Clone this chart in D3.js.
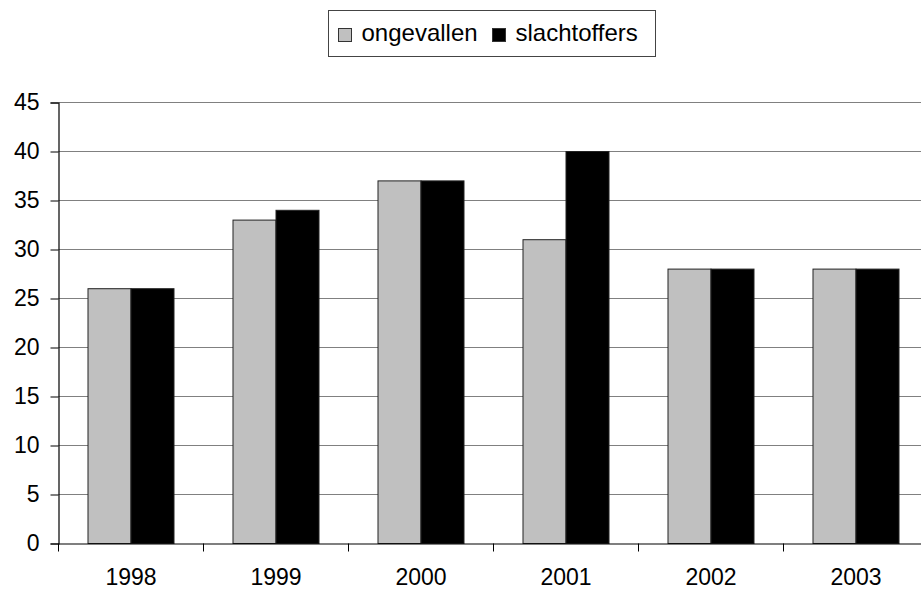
<!DOCTYPE html>
<html>
<head>
<meta charset="utf-8">
<script src="https://cdn.jsdelivr.net/npm/d3@7"></script>
<style>
  body { margin: 0; background: #fff; }
  svg { display: block; font-family: "Liberation Sans", Arial, sans-serif; }
</style>
</head>
<body>
<div id="chart"></div>
<script>
const years = ["1998", "1999", "2000", "2001", "2002", "2003"];
const ongevallen = [26, 33, 37, 31, 28, 28];
const slachtoffers = [26, 34, 37, 40, 28, 28];
const seriesNames = ["ongevallen", "slachtoffers"];
const seriesColors = ["#c0c0c0", "#000000"];
const yTicks = [0, 5, 10, 15, 20, 25, 30, 35, 40, 45];

const width = 921, height = 591;
const margin = { left: 58.5, top: 102.5, bottom: 47.5 };
const plotRight = margin.left + 145 * years.length;
const fontSize = 23;

const svg = d3.select("#chart").append("svg")
  .attr("width", width)
  .attr("height", height);

const x = d3.scaleBand().domain(years).range([margin.left, plotRight]);
const x1 = d3.scaleBand().domain(seriesNames).range([0, 86]);
const y = d3.scaleLinear().domain([0, 45]).range([height - margin.bottom, margin.top]);

// gridlines
svg.append("g")
  .selectAll("line")
  .data(yTicks.slice(1))
  .join("line")
    .attr("x1", margin.left)
    .attr("x2", plotRight)
    .attr("y1", d => y(d))
    .attr("y2", d => y(d))
    .attr("stroke", "#808080")
    .attr("stroke-width", 1.2);

// bars
const rows = years.map((yr, i) => ({ year: yr, values: [ongevallen[i], slachtoffers[i]] }));
const group = svg.append("g")
  .selectAll("g")
  .data(rows)
  .join("g")
    .attr("transform", d => `translate(${x(d.year) + (x.bandwidth() - 86) / 2},0)`);

group.selectAll("rect")
  .data(d => d.values.map((v, j) => ({ name: seriesNames[j], value: v, color: seriesColors[j] })))
  .join("rect")
    .attr("x", d => x1(d.name))
    .attr("width", x1.bandwidth())
    .attr("y", d => y(d.value))
    .attr("height", d => y(0) - y(d.value))
    .attr("fill", d => d.color)
    .attr("stroke", "#222")
    .attr("stroke-width", 1);

// y axis
const yAxis = svg.append("g")
  .attr("transform", `translate(${margin.left},0)`)
  .call(d3.axisLeft(y).tickValues(yTicks).tickSize(8).tickPadding(11));
yAxis.select(".domain").attr("stroke", "#000").attr("stroke-width", 1.2);
yAxis.selectAll(".tick line").attr("stroke", "#000");
yAxis.selectAll("text").attr("font-size", fontSize).attr("fill", "#000")
  .attr("font-family", "Liberation Sans, Arial, sans-serif");

// x axis
const xAxis = svg.append("g")
  .attr("transform", `translate(0,${y(0)})`)
  .call(d3.axisBottom(x).tickSize(0).tickPadding(25));
xAxis.select(".domain").attr("stroke", "#000").attr("stroke-width", 1.2);
xAxis.selectAll("text").attr("font-size", fontSize).attr("fill", "#000")
  .attr("font-family", "Liberation Sans, Arial, sans-serif");
// tick marks between categories
svg.append("g")
  .selectAll("line")
  .data(d3.range(years.length + 1))
  .join("line")
    .attr("x1", i => margin.left + i * x.step())
    .attr("x2", i => margin.left + i * x.step())
    .attr("y1", y(0))
    .attr("y2", y(0) + 8)
    .attr("stroke", "#000");

// legend
const legend = svg.append("g");
legend.append("rect")
  .attr("x", 328.5).attr("y", 10.5)
  .attr("width", 327).attr("height", 46)
  .attr("fill", "#fff")
  .attr("stroke", "#444")
  .attr("stroke-width", 1);
const legendX = [338, 492];
seriesNames.forEach((name, i) => {
  legend.append("rect")
    .attr("x", legendX[i] + 0.5).attr("y", 28.5)
    .attr("width", 13).attr("height", 13)
    .attr("fill", seriesColors[i])
    .attr("stroke", "#333");
  legend.append("text")
    .attr("x", legendX[i] + 23.5).attr("y", 41)
    .attr("font-size", 24)
    .text(name);
});
</script>
</body>
</html>
